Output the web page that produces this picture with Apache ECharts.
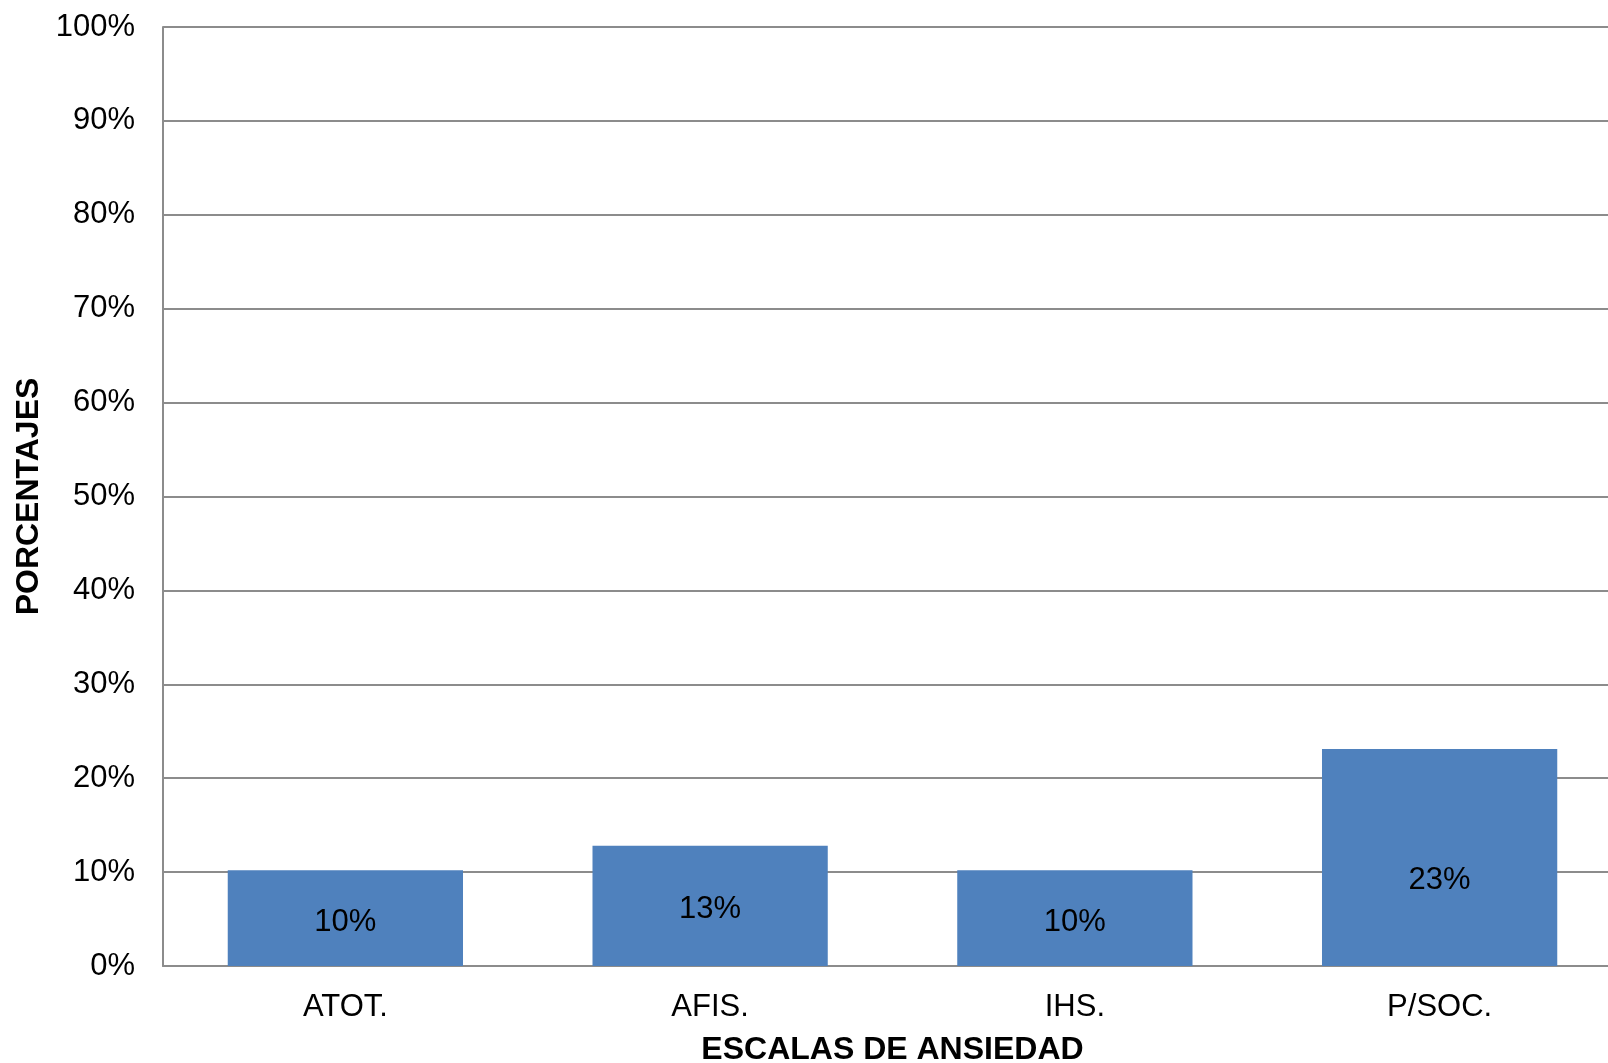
<!DOCTYPE html>
<html>
<head>
<meta charset="utf-8">
<script src="https://cdn.jsdelivr.net/npm/echarts@6/dist/echarts.min.js"></script>
<style>
  html, body { margin: 0; padding: 0; background: #ffffff; overflow: hidden; }
  #chart { width: 1608px; height: 1063px; }
</style>
</head>
<body>
<div id="chart"></div>
<script>
// Anxiety scale categories and their percentages
const categories = ['ATOT.', 'AFIS.', 'IHS.', 'P/SOC.'];
const values = [10.2, 12.8, 10.2, 23.1];
const yTicks = [0, 10, 20, 30, 40, 50, 60, 70, 80, 90, 100];

const FONT = '"Liberation Sans", Arial, sans-serif';
const GRID_GRAY = '#8c8c8c';

const chart = echarts.init(document.getElementById('chart'), null, { renderer: 'canvas' });

const barData = values.map(function (v) {
  const item = { value: v };
  // the tallest bar keeps its label a little lower than the middle
  if (v > 20) item.label = { offset: [0, 23] };
  return item;
});

chart.setOption({
  animation: false,
  backgroundColor: '#ffffff',
  // plot area runs slightly past the right edge of the canvas
  grid: { left: 163, right: -14, top: 27, bottom: 97, containLabel: false, outerBoundsMode: 'none' },
  xAxis: {
    type: 'category',
    data: categories,
    name: 'ESCALAS DE ANSIEDAD',
    nameLocation: 'middle',
    nameGap: 68,
    nameTextStyle: { fontFamily: FONT, fontSize: 32, fontWeight: 'bold', color: '#000000' },
    axisLine: { show: true, lineStyle: { color: GRID_GRAY, width: 2 } },
    axisTick: { show: false },
    axisLabel: { fontFamily: FONT, fontSize: 31, color: '#000000', margin: 26 }
  },
  yAxis: {
    type: 'value',
    min: yTicks[0],
    max: yTicks[yTicks.length - 1],
    interval: yTicks[1] - yTicks[0],
    name: 'PORCENTAJES',
    nameLocation: 'middle',
    nameGap: 115,
    nameRotate: 90,
    nameTextStyle: { fontFamily: FONT, fontSize: 32, fontWeight: 'bold', color: '#000000' },
    axisLine: { show: true, lineStyle: { color: GRID_GRAY, width: 2 } },
    axisTick: { show: false },
    axisLabel: {
      fontFamily: FONT, fontSize: 31, color: '#000000', margin: 28,
      padding: [10, 0, 0, 0],
      formatter: function (v) { return v + '%'; }
    },
    splitLine: { show: true, lineStyle: { color: GRID_GRAY, width: 2 } }
  },
  series: [{
    type: 'bar',
    data: barData,
    barWidth: '64.5%',
    itemStyle: { color: '#4f81bd' },
    label: {
      show: true,
      position: 'inside',
      offset: [0, 4],
      fontFamily: FONT,
      fontSize: 31,
      color: '#000000',
      formatter: function (p) { return Math.round(p.value) + '%'; }
    }
  }]
});
</script>
</body>
</html>
